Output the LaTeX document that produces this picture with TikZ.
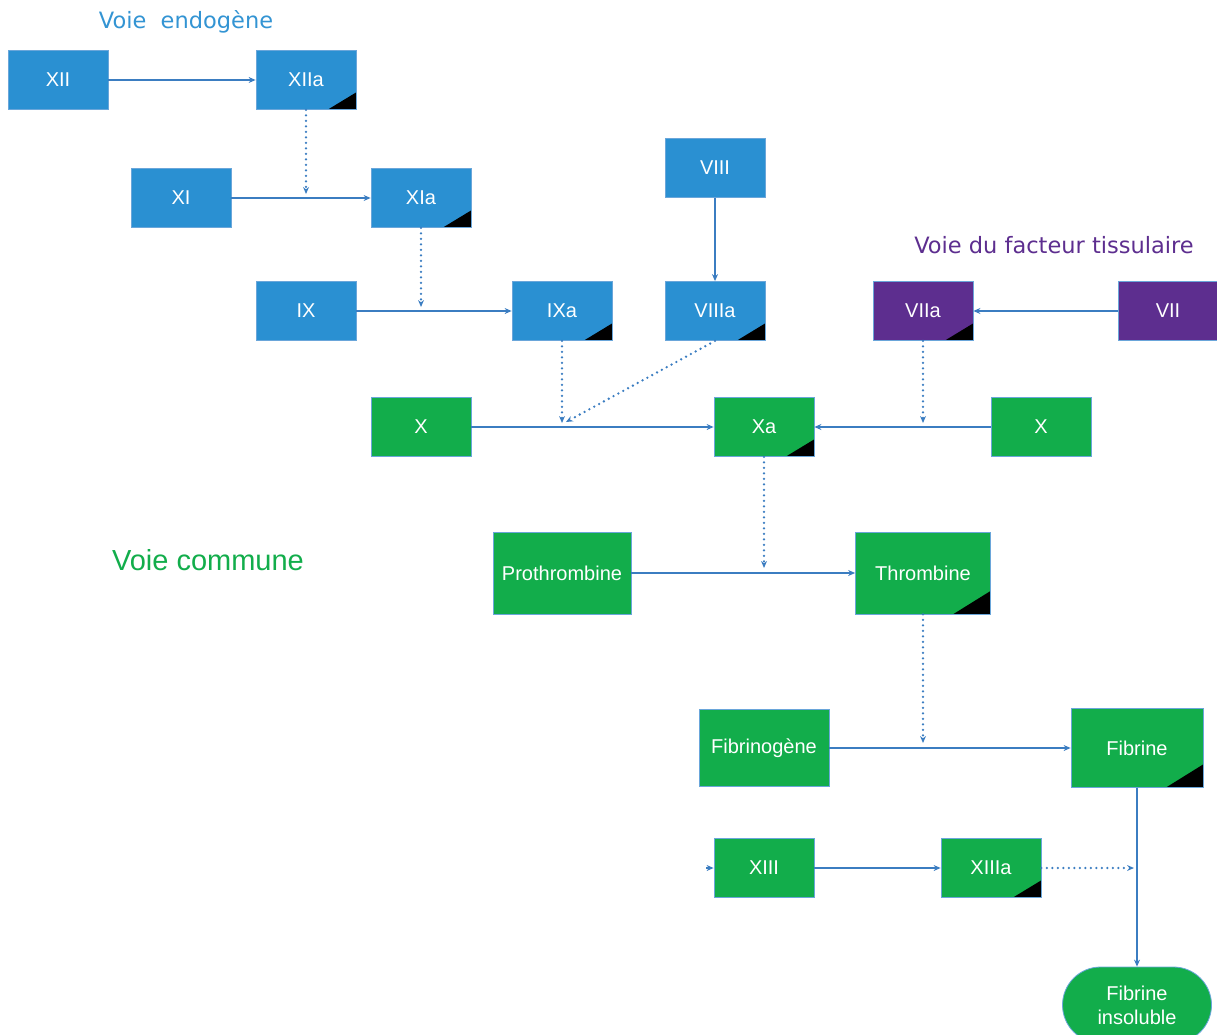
\documentclass[tikz,border=0pt]{standalone}
\usepackage{fontspec}
\setmainfont{Liberation Sans}
\newfontfamily\verd{DejaVu Sans}
\usetikzlibrary{arrows.meta,shapes.misc}
\definecolor{cblue}{HTML}{2A90D2}
\definecolor{ctitle}{HTML}{3394D3}
\definecolor{cgreen}{HTML}{12AD4B}
\definecolor{cpurple}{HTML}{5D2E8F}
\definecolor{carrow}{HTML}{3B7DC1}
\definecolor{cedge}{HTML}{6AA6DA}
\begin{document}
\begin{tikzpicture}[x=1pt,y=-1pt,
  box/.style={rectangle, draw=cedge, line width=0.8pt, inner sep=0pt,
    minimum width=100pt, minimum height=59pt, text=white,
    font=\fontsize{20}{24}\selectfont},
  bluebox/.style={box, fill=cblue},
  greenbox/.style={box, fill=cgreen},
  purplebox/.style={box, fill=cpurple},
  act/.style={path picture={\fill[black] (path picture bounding box.south east)
      -- ++(-28pt,0pt) -- ++(28pt,17pt) -- cycle;}},
  bigact/.style={path picture={\fill[black] (path picture bounding box.south east)
      -- ++(-37pt,0pt) -- ++(37pt,23pt) -- cycle;}},
  flow/.style={draw=carrow, line width=1.1pt, -{Stealth[length=7pt,width=6pt]}},
  cat/.style={draw=carrow, line width=2.6pt, dash pattern=on 0pt off 5.5pt,
    line cap=round, -{Stealth[length=7pt,width=6pt,line width=0pt]}},
  ttl/.style={inner sep=0pt, font=\verd\fontsize{22.5}{26}\selectfont}
]
\useasboundingbox (0,0) rectangle (1217,1035);

% titles
\node[ttl, text=ctitle] (tendo) at (186,22) {Voie~ endogène};
\node[ttl, text=cpurple] (ttis) at (1054,245) {Voie du facteur tissulaire};
\node[inner sep=0pt, text=cgreen, font=\fontsize{29}{34}\selectfont] (tcom) at (208,560) {Voie commune};

% intrinsic pathway
\node[bluebox] (xii) at (58,80) {XII};
\node[bluebox, act] (xiia) at (306,80) {XIIa};
\node[bluebox] (xi) at (181,198) {XI};
\node[bluebox, act] (xia) at (421,198) {XIa};
\node[bluebox] (viii) at (715,168) {VIII};
\node[bluebox] (ix) at (306,311) {IX};
\node[bluebox, act] (ixa) at (562,311) {IXa};
\node[bluebox, act] (viiia) at (715,311) {VIIIa};

% tissue factor pathway
\node[purplebox, act] (viia) at (923,311) {VIIa};
\node[purplebox] (vii) at (1168,311) {VII};

% common pathway
\node[greenbox] (xl) at (421,427) {X};
\node[greenbox, act] (xa) at (764,427) {Xa};
\node[greenbox] (xr) at (1041,427) {X};
\node[greenbox, minimum width=138pt, minimum height=82pt] (pro) at (562,573) {Prothrombine};
\node[greenbox, bigact, minimum width=135pt, minimum height=82pt] (thr) at (923,573) {Thrombine};
\node[greenbox, minimum width=130pt, minimum height=77pt] (fbg) at (764,748) {Fibrinogène};
\node[greenbox, bigact, minimum width=132pt, minimum height=79pt] (fib) at (1137,748) {Fibrine};
\node[greenbox] (xiii) at (764,868) {XIII};
\node[greenbox, act] (xiiia) at (991,868) {XIIIa};
\node[greenbox, rounded rectangle, minimum width=149pt, minimum height=76pt,
  align=center, font=\fontsize{20}{24}\selectfont] (ins) at (1137,1005) {Fibrine\\insoluble};

% junction points
\coordinate (j1) at (306,194);
\coordinate (j2) at (421,307);
\coordinate (j3) at (562,423);
\coordinate (j4) at (566,422);
\coordinate (j5) at (923,423);
\coordinate (j6) at (764,568);
\coordinate (j7) at (923,743);
\coordinate (j8) at (1134,868);
\coordinate (xiiiin) at (706,868);

% solid conversions
\draw[flow] (xii) -- (xiia);
\draw[flow] (xi) -- (xia);
\draw[flow] (ix) -- (ixa);
\draw[flow] (viii) -- (viiia);
\draw[flow] (vii) -- (viia);
\draw[flow] (xl) -- (xa);
\draw[flow] (xr) -- (xa);
\draw[flow] (pro) -- (thr);
\draw[flow] (fbg) -- (fib);
\draw[flow] (fib) -- (ins);
\draw[flow] (xiii) -- (xiiia);
\draw[flow] (xiiiin) -- (xiii.west);

% catalytic (dotted) actions
\draw[cat] (xiia.south) -- (j1);
\draw[cat] (xia.south) -- (j2);
\draw[cat] (ixa.south) -- (j3);
\draw[cat] (viiia.south) -- (j4);
\draw[cat] (viia.south) -- (j5);
\draw[cat] (xa.south) -- (j6);
\draw[cat] (thr.south) -- (j7);
\draw[cat] (xiiia.east) -- (j8);
\end{tikzpicture}
\end{document}
